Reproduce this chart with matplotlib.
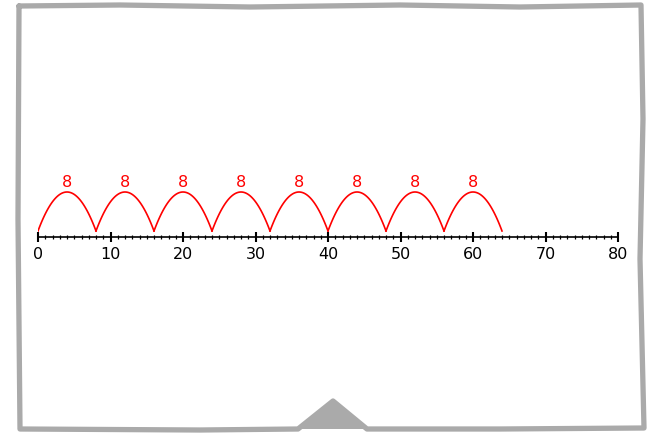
import numpy as np
import matplotlib.pyplot as plt

# number line data
axis_min = 0
axis_max = 80
major_step = 10
minor_step = 1
jump_size = 8
jump_starts = [0, 8, 16, 24, 32, 40, 48, 56]
jump_labels = ["8", "8", "8", "8", "8", "8", "8", "8"]

# frame outline (pixel coords, slightly hand drawn)
frame_x = [19, 120, 250, 400, 520, 641, 643, 640, 644, 500, 367, 333, 298, 200, 20, 18, 19]
frame_y = [7, 6, 8, 6, 8, 6, 120, 260, 429, 430, 430, 402, 430, 431, 430, 220, 7]

W, H = 660, 435
fig = plt.figure(figsize=(W / 100, H / 100), dpi=100)

# background / frame layer in pixel coordinates
bg = fig.add_axes([0, 0, 1, 1])
bg.set_xlim(0, W)
bg.set_ylim(H, 0)
bg.axis('off')
bg.plot(frame_x, frame_y, color='#aaaaaa', lw=3.8, solid_joinstyle='round', solid_capstyle='round')
bg.fill([298, 333, 367], [430, 402, 430], color='#aaaaaa', lw=0)

# number line axes: y=0 at pixel 238, 1 unit = 1 px vertically
top_px, bot_px = 150, 280
ax = fig.add_axes([38 / W, 1 - bot_px / H, 580 / W, (bot_px - top_px) / H])
ax.set_xlim(axis_min, axis_max)
ax.set_ylim(-(bot_px - 238), 238 - top_px)
ax.patch.set_alpha(0)
for s in ['top', 'left', 'right']:
    ax.spines[s].set_visible(False)
ax.spines['bottom'].set_position(('data', 0))
ax.spines['bottom'].set_linewidth(1.2)
ax.set_yticks([])
ax.set_xticks(np.arange(axis_min, axis_max + 1, major_step))
ax.set_xticks(np.arange(axis_min, axis_max + 1, minor_step), minor=True)
ax.tick_params(axis='x', which='major', direction='inout', length=7, width=1.5, pad=3, labelsize=11.5)
ax.tick_params(axis='x', which='minor', direction='inout', length=3.5, width=0.9)

# jumps
for start, lab in zip(jump_starts, jump_labels):
    xs = np.linspace(start, start + jump_size, 60)
    t = (xs - start) / jump_size
    ys = 6 + 39 * 4 * t * (1 - t)
    ax.plot(xs, ys, color='red', lw=1.2)
    ax.text(start + jump_size / 2, 55, lab, color='red', ha='center', va='center', fontsize=11.5)

fig.savefig('out.png', dpi=100)
